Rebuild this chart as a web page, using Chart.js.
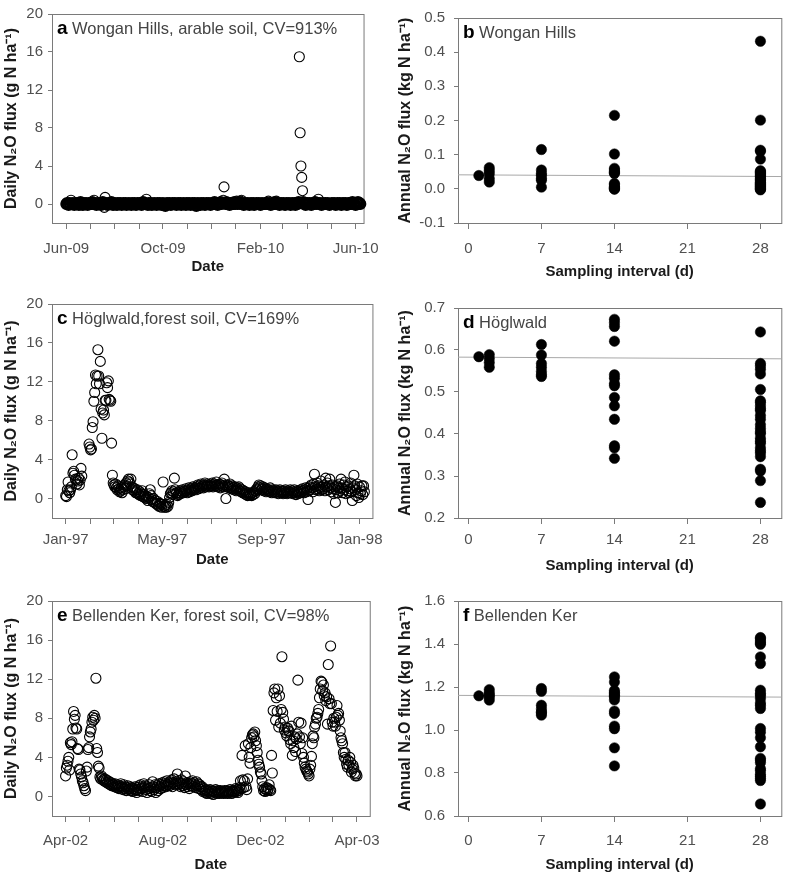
<!DOCTYPE html>
<html>
<head>
<meta charset="utf-8">
<script src="https://cdn.jsdelivr.net/npm/chart.js@4.4.1/dist/chart.umd.min.js"></script>
<style>
  body { margin: 0; background: #fff; }
  #wrap { position: relative; width: 787px; height: 873px; background: #fff; }
  canvas { position: absolute; }
</style>
</head>
<body>
<div id="wrap">
  <canvas id="panelA" width="390" height="290" style="left:0;top:0"></canvas>
  <canvas id="panelB" width="397" height="290" style="left:390px;top:0"></canvas>
  <canvas id="panelC" width="390" height="290" style="left:0;top:290px"></canvas>
  <canvas id="panelD" width="397" height="290" style="left:390px;top:290px"></canvas>
  <canvas id="panelE" width="390" height="293" style="left:0;top:580px"></canvas>
  <canvas id="panelF" width="397" height="293" style="left:390px;top:580px"></canvas>
</div>
<script>
const FONT = "'Liberation Sans', Arial, Helvetica, sans-serif";
Chart.defaults.font.family = FONT;

// daily N2O flux (g N ha-1), one value per day from the start date, null = no data
const wonganStart = [2009, 5, 1];
const wonganDaily = [
  0, 0.1, 0, -0.1, 0.1, 0, 0.4, 0, 0.1, 0,
  -0.1, 0, 0.1, 0, 0, 0.1, -0.1, 0, 0.2, 0,
  0, -0.1, 0.1, 0, 0, 0.1, 0, -0.1, 0, 0.1,
  0, 0.1, 0, 0.2, 0, 0.4, 0.1, 0, -0.1, 0,
  0.1, 0, 0, 0.1, -0.1, 0, 0.2, 0, -0.35, 0.7,
  0.1, 0, -0.1, 0, 0.1, 0, 0, 0.2, 0, -0.1,
  0, 0.1, 0, 0, -0.1, 0.1, 0, 0, 0.1, 0,
  -0.1, 0, 0.1, 0, 0, 0.1, -0.1, 0, 0, 0.1,
  0, 0, -0.1, 0.1, 0, 0, 0.1, 0, -0.1, 0,
  0.1, 0, 0, 0.1, 0, -0.1, 0, 0.2, 0, 0.1,
  0, 0.5, 0, -0.1, 0.1, 0, 0, 0.1, -0.1, 0,
  0, 0.1, 0, 0, -0.1, 0.1, 0, 0, 0.1, 0,
  -0.1, 0, 0.1, 0, 0, -0.2, 0, 0.1, 0, 0,
  0.1, 0, -0.1, 0, 0.1, 0, 0, 0.1, 0, -0.1,
  0, 0.1, 0, 0, 0.1, -0.1, 0, 0, 0.1, 0,
  0, -0.1, 0.1, 0, 0, 0.1, 0, -0.1, 0, 0.1,
  0, 0, 0.1, 0, -0.2, 0, 0.1, 0, 0, -0.1,
  0.1, 0, 0, 0.1, 0, -0.1, 0, 0.1, 0, 0,
  0.1, 0, -0.1, 0, 0.1, 0, 0, 0.2, 0, 0.1,
  0, -0.1, 0, 0.1, 0, 0.2, 0, 0.1, 0.4, 1.8,
  0.1, 0, 0.2, 0, 0.1, 0, -0.1, 0.1, 0, 0,
  0.1, 0, 0.2, 0, 0.1, 0.3, 0, 0.1, 0.2, 0,
  0.3, 0.4, 0.1, 0, -0.1, 0, 0.1, 0, 0, 0.1,
  0, -0.1, 0, 0.1, 0, 0, 0.1, -0.1, 0, 0,
  0.1, 0, 0, 0.1, 0, -0.1, 0, 0.1, 0, 0,
  0, 0.1, 0, 0.1, 0, 0.3, 0.1, 0, -0.1, 0,
  0.1, 0, 0, 0.2, 0, 0.3, 0, 0.1, 0, -0.1,
  0, 0.1, 0, 0, 0.1, 0, -0.1, 0, 0.1, 0,
  0, 0.1, 0, -0.1, 0, 0.1, 0, 0, 0.1, -0.1,
  0, 0.1, 0, 0.2, 15.5, 7.5, 4.0, 2.8, 1.4, 0.2,
  0, 0.1, -0.1, 0, 0.1, 0, 0, 0.1, 0, -0.1,
  0, 0.1, 0, 0, 0.2, 0.1, 0, 0.1, 0.5, 0,
  0.1, 0, -0.1, 0, 0.1, 0, 0, 0.1, 0, 0,
  0.1, 0, -0.1, 0, 0, 0.1, 0, 0, 0.1, 0,
  -0.1, 0, 0.1, 0, 0, 0.1, 0, -0.1, 0, 0.1,
  0, 0, 0.1, 0, -0.1, 0, 0.1, 0, 0, 0.1,
  0, 0.2, 0, 0.1, 0, -0.1, 0.1, 0, 0.2, 0,
  0.1, 0
];
const wonganDateLabels = ['Jun-09', 'Oct-09', 'Feb-10', 'Jun-10'];

const hoglwaldStart = [1997, 0, 1];
const hoglwaldDaily = [
  0.3, 0.2, 0.9, 1.7, 0.8, 0.6, 0.9, 1.2, 4.5, 2.6,
  2.8, 2.4, 2.0, 1.9, 1.5, 1.8, 2.1, 1.4, 1.9, 3.1,
  2.3, null, null, null, null, null, null, null, null, 5.6,
  5.3, 5.0, 5.1, 7.3, 7.9, 10.0, 10.9, 12.7, 11.8, 12.6,
  15.3, 12.6, 11.8, 14.1, 9.2, 6.2, 8.8, 9.1, 8.6, 10.1,
  10.1, 11.9, 11.4, 12.1, 10.2, 10.1, 10.0, 5.7, 2.4, 1.6,
  1.4, 1.2, 1.5, 1.1, 0.9, 1.3, 1.0, 0.7, 0.8, 1.1,
  0.6, 0.9, 1.2, 1.4, 1.0, 1.6, 1.3, 1.8, 2.0, 1.7,
  1.5, 2.0, 1.2, 0.9, 1.1, 0.8, 1.0, 0.6, 0.7, 0.9,
  0.5, 0.4, 0.7, 0.3, 0.5, 0.8, 0.2, 0.4, 0.1, 0.3,
  0.0, 0.2, -0.2, 0.1, 0.5, 0.9, 0.3, -0.1, -0.3, 0.0,
  -0.4, -0.2, -0.5, -0.6, -0.3, -0.7, -0.8, -0.5, -0.6, -0.9,
  -0.6, 1.7, -0.8, -0.9, -0.7, -0.9, -0.6, -0.8, -0.4, 0.1,
  0.5, 0.6, 0.8, 0.4, 0.7, 2.1, 0.9, 0.5, 0.6, 0.3,
  0.4, 0.6, 0.8, 0.5, 0.7, 0.9, 0.6, 0.8, 0.7, 1.0,
  0.8, 0.6, 0.9, 1.1, 0.7, 0.9, 1.0, 0.8, 1.2, 0.9,
  1.0, 1.1, 0.9, 1.2, 1.4, 1.0, 1.3, 1.1, 1.5, 1.2,
  1.3, 1.1, 1.4, 1.6, 1.2, 1.3, 1.5, 1.4, 1.2, 1.3,
  1.5, 1.3, 1.6, 1.2, 1.4, 1.5, 1.3, 1.7, 1.4, 1.2,
  1.3, 1.5, 1.1, 1.4, 1.6, 1.3, 1.2, 2.0, 1.4, 0.0,
  1.2, 1.4, 1.3, 1.1, 1.5, 1.2, 1.0, 1.3, 1.1, 0.9,
  1.2, 1.0, 0.8, 1.1, 0.9, 1.2, 0.8, 1.0, 0.7, 0.9,
  0.6, 0.8, 0.5, 0.7, 0.4, 0.6, 0.3, 0.5, 0.6, 0.4,
  0.5, 0.3, 0.6, 0.4, 0.7, 0.5, 0.8, 1.0, 0.9, 1.2,
  1.4, 1.1, 1.3, 0.9, 1.0, 1.2, 0.8, 1.1, 0.9, 0.7,
  1.0, 0.8, 0.9, 0.7, 1.1, 0.8, 0.6, 0.9, 0.7, 0.8,
  0.6, 0.9, 0.7, 0.8, 0.5, 0.7, 0.9, 0.6, 0.8, 0.7,
  0.5, 0.8, 0.6, 0.9, 0.7, 0.5, 0.8, 0.6, 0.7, 0.9,
  0.6, 0.8, 0.5, 0.7, 0.9, 0.6, 0.4, 0.8, 0.7, 0.5,
  0.8, 0.6, 0.9, 0.7, 1.0, 0.8, 0.6, 0.9, 1.1, 0.7,
  1.0, -0.1, 0.8, 1.2, 0.9, 1.4, 1.1, 0.7, 1.5, 2.5,
  1.2, 0.9, 1.6, 1.0, 1.3, 0.8, 1.1, 1.8, 0.9, 1.2,
  1.0, 1.4, 0.8, 2.1, 1.2, 1.6, 0.9, 1.3, 2.0, 1.1,
  0.7, 1.4, 1.0, 0.5, 1.2, -0.4, 0.9, 1.3, 0.6, 1.1,
  1.5, 0.8, 2.0, 1.1, 0.6, 1.4, 0.9, 1.7, 0.5, 1.2,
  0.8, 1.3, 0.6, 1.0, 1.6, 0.7, -0.2, 1.1, 2.4, 1.3,
  0.9, 0.3, 1.5, 0.6, 0.1, 1.2, 0.5, 0.8, 1.3, 0.4,
  1.3, 0.7
];
const hoglwaldDateLabels = ['Jan-97', 'May-97', 'Sep-97', 'Jan-98'];

const bellendenStart = [2002, 3, 1];
const bellendenDaily = [
  2.1, 2.9, 3.2, 3.6, 4.0, 2.7, 5.5, 5.3, 5.6, 6.9,
  8.7, 7.9, 8.3, 7.0, 6.9, 4.9, 4.8, 2.8, 2.7, 2.3,
  2.0, 1.6, 1.4, 1.1, 0.8, 0.6, 2.6, 3.0, 4.8, 5.0,
  6.1, 6.6, 6.9, 7.6, 8.1, 7.8, 8.3, 8.0, 12.1, 4.9,
  4.5, 3.1, 2.9, 2.0, 1.8, 2.1, 1.9, 1.7, 1.6, 1.8,
  1.5, 1.7, 1.4, 1.6, 1.3, 1.5, 1.2, 1.4, 1.1, 1.3,
  1.2, 1.0, 1.3, 1.1, 0.9, 1.2, 1.0, 0.8, 1.1, 1.3,
  0.9, 1.0, 0.7, 1.2, 0.8, 1.0, 0.6, 0.9, 1.1, 0.7,
  0.8, 1.0, 0.6, 0.9, 0.5, 0.8, 0.7, 1.0, 0.6, 0.4,
  0.7, 0.9, 1.1, 0.6, 1.2, 0.8, 1.0, 0.5, 1.3, 0.9,
  1.1, 0.7, 0.4, 1.0, 0.8, 1.2, 0.6, 0.9, 0.5, 1.5,
  1.0, 0.7, 1.2, 0.4, 0.9, 1.1, 0.6, 1.3, 1.0, 0.8,
  1.2, 1.4, 0.9, 1.1, 1.5, 1.3, 1.0, 1.6, 1.2, 1.4,
  1.1, 1.5, 1.3, 1.7, 1.0, 1.4, 1.8, 1.2, 1.5, 1.3,
  2.3, 1.6, 1.2, 1.4, 1.0, 1.7, 1.3, 1.1, 1.5, 0.9,
  2.1, 1.2, 1.4, 1.0, 1.3, 0.8, 1.5, 1.1, 1.3, 1.6,
  1.0, 1.4, 1.2, 0.9, 1.5, 1.1, 1.3, 0.8, 1.2, 1.0,
  0.7, 1.0, 0.5, 0.8, 0.6, 0.4, 0.7, 0.3, 0.5, 0.6,
  0.4, 0.7, 0.3, 0.5, 0.6, 0.2, 0.5, 0.4, 0.7, 0.3,
  0.5, 0.6, 0.4, 0.3, 0.6, 0.5, 0.4, 0.5, 0.3, 0.6,
  0.4, 0.5, 0.6, 0.3, 0.5, 0.4, 0.7, 0.5, 0.3, 0.6,
  0.5, 0.4, 0.6, 0.8, 0.5, 0.7, 0.4, 0.6, 0.9, 1.6,
  0.8, 4.2, 1.7, 0.9, 1.6, 5.2, 1.0, 0.7, 1.8, 5.4,
  4.0, 3.4, 5.0, 6.0, 6.3, 6.4, 6.1, 6.6, 5.7, 5.2,
  4.5, 3.7, 3.3, 3.0, 2.5, 2.3, 1.6, 1.0, 0.6, 0.8,
  0.5, 0.7, 0.9, 0.6, 0.8, 1.2, 0.7, 0.6, 4.2, 2.4,
  8.8, 10.6, 11.0, 7.8, 10.1, 8.7, 11.0, 7.1, 10.3, 7.5,
  8.9, 14.3, 8.6, 7.9, 6.8, 7.1, 6.5, 6.2, 7.0, 6.7,
  6.7, 5.8, 5.4, 7.2, 4.2, 5.7, 5.0, 6.1, 4.6, 5.9,
  6.4, 11.9, 7.6, 6.1, 5.4, 7.5, 4.4, 6.0, 4.0, 3.4,
  3.0, 2.8, 2.6, 2.5, 2.3, 2.1, 2.8, 3.2, 4.1, 5.4,
  6.2, 6.0, 7.1, 7.4, 8.0, 8.1, 8.5, 8.9, 10.1, 11.0,
  11.8, 11.7, 10.8, 11.4, 10.3, 10.6, 9.8, 10.2, 7.4, 13.5,
  10.0, 9.5, 15.4, 9.5, 7.6, 7.2, 8.0, 7.6, 7.2, 8.1,
  9.3, 8.3, 8.5, 7.8, 6.7, 6.0, 5.7, 5.4, 4.5, 4.0,
  4.5, 3.8, 3.3, 3.0, 3.7, 3.2, 4.0, 3.5, 2.5, 2.8,
  3.2, 2.9, 2.4, 2.1, 2.3, 2.1
];
const bellendenDateLabels = ['Apr-02', 'Aug-02', 'Dec-02', 'Apr-03'];

const dailyTicks = [0, 4, 8, 12, 16, 20];

// annual N2O flux (kg N ha-1) estimated at each sampling interval (d)
const samplingIntervals = [1, 2, 7, 14, 28];
const intervalTicks = [0, 7, 14, 21, 28];
const trendX = [-1, 30];

const wonganAnnual = [
  [0.039],
  [0.062, 0.053, 0.044, 0.030, 0.020],
  [0.115, 0.055, 0.045, 0.039, 0.030, 0.025, 0.005],
  [0.215, 0.102, 0.060, 0.055, 0.048, 0.045, 0.016, 0.012, 0.006, 0.004, 0.002, 0.0, -0.001, 0.050],
  [0.432, 0.201, 0.113, 0.110, 0.087, 0.053, 0.048, 0.045, 0.041, 0.038, 0.030, 0.027, 0.020, 0.016,
   0.014, 0.010, 0.006, 0.004, 0.002, 0.0, -0.001, -0.003, 0.018, 0.008, 0.035, 0.024, 0.012, 0.050]
];
const wonganTrend = [0.041, 0.036];
const wonganAnnualTicks = [-0.1, 0, 0.1, 0.2, 0.3, 0.4, 0.5];

const hoglwaldAnnual = [
  [0.584],
  [0.589, 0.580, 0.570, 0.559],
  [0.613, 0.588, 0.568, 0.559, 0.549, 0.541, 0.537],
  [0.673, 0.665, 0.656, 0.621, 0.541, 0.533, 0.520, 0.515, 0.487, 0.467, 0.435, 0.372, 0.367, 0.342],
  [0.643, 0.568, 0.562, 0.554, 0.543, 0.506, 0.479, 0.475, 0.467, 0.460, 0.456, 0.444, 0.435, 0.422,
   0.413, 0.405, 0.401, 0.390, 0.383, 0.378, 0.367, 0.360, 0.355, 0.346, 0.316, 0.312, 0.289, 0.237]
];
const hoglwaldTrend = [0.583, 0.579];
const hoglwaldAnnualTicks = [0.2, 0.3, 0.4, 0.5, 0.6, 0.7];

const bellendenAnnual = [
  [1.159],
  [1.188, 1.173, 1.163, 1.154, 1.139],
  [1.193, 1.180, 1.115, 1.098, 1.084, 1.080, 1.069],
  [1.247, 1.223, 1.184, 1.175, 1.168, 1.160, 1.154, 1.140, 1.088, 1.077, 1.018, 1.006, 0.917, 0.833],
  [1.430, 1.425, 1.414, 1.405, 1.399, 1.340, 1.309, 1.185, 1.170, 1.162, 1.147, 1.126, 1.115, 1.100,
   1.007, 0.990, 0.964, 0.922, 0.868, 0.860, 0.848, 0.820, 0.811, 0.794, 0.785, 0.775, 0.765, 0.656]
];
const bellendenTrend = [1.161, 1.153];
const bellendenAnnualTicks = [0.6, 0.8, 1.0, 1.2, 1.4, 1.6];

function dayNum(y, m, d) {
  return Date.UTC(y, m, d) / 864e5;
}

function dailyPoints(start, values) {
  const d0 = dayNum(start[0], start[1], start[2]);
  return values.map((v, i) => ({ x: d0 + i, y: v })).filter(p => p.y !== null);
}

function monthTicks(start) {
  const out = [];
  for (let i = 0; i <= 12; i++) out.push(dayNum(start[0], start[1] + i, 1));
  return out;
}

function annualPoints(groups) {
  const pts = [];
  groups.forEach((g, i) => g.forEach(v => pts.push({ x: samplingIntervals[i], y: v })));
  return pts;
}

const framePlugin = {
  id: 'frame',
  beforeDatasetsDraw(chart, args, opts) {
    const { ctx, chartArea: a } = chart;
    ctx.save();
    ctx.strokeStyle = '#7a7a7a';
    ctx.lineWidth = 1;
    ctx.strokeRect(a.left + 0.5, a.top + 0.5, a.right - a.left, a.bottom - a.top);
    const x0 = a.left + 5, y0 = a.top + 20;
    ctx.textBaseline = 'alphabetic';
    ctx.textAlign = 'left';
    ctx.font = 'bold 19px ' + FONT;
    ctx.fillStyle = '#000';
    ctx.fillText(opts.letter, x0, y0);
    const w = ctx.measureText(opts.letter).width;
    ctx.font = '16.5px ' + FONT;
    ctx.fillStyle = '#444';
    ctx.fillText(opts.text, x0 + w + 4.5, y0);
    ctx.restore();
  }
};

function makeChart(id, cfg) {
  return new Chart(document.getElementById(id), {
    type: 'scatter',
    data: { datasets: cfg.datasets },
    options: {
      responsive: false,
      animation: false,
      events: [],
      layout: { padding: { top: cfg.top, right: cfg.right, left: 0, bottom: 0 } },
      plugins: {
        legend: { display: false },
        tooltip: { enabled: false },
        frame: { letter: cfg.letter, text: cfg.title }
      },
      scales: {
        x: {
          type: 'linear',
          min: cfg.xMin,
          max: cfg.xMax,
          afterFit: s => { s.height = cfg.xHeight; },
          afterBuildTicks: s => { s.ticks = cfg.xTicks.map(v => ({ value: v })); },
          grid: { drawOnChartArea: false, tickLength: 6, color: '#7a7a7a' },
          border: { display: false },
          ticks: {
            autoSkip: false, maxRotation: 0, minRotation: 0,
            padding: cfg.xPad, color: '#505050', font: { size: 15 },
            callback: (v, i) => cfg.xLabel(v, i)
          },
          title: {
            display: true, text: cfg.xTitle, color: '#1a1a1a',
            font: { size: 15, weight: 'bold' }, padding: { top: 0, bottom: cfg.xTitlePad }
          }
        },
        y: {
          type: 'linear',
          min: cfg.yMin,
          max: cfg.yMax,
          afterFit: s => { s.width = cfg.yWidth; },
          afterBuildTicks: s => { s.ticks = cfg.yTicks.map(v => ({ value: v })); },
          grid: { drawOnChartArea: false, tickLength: 4, color: '#7a7a7a' },
          border: { display: false },
          ticks: {
            padding: cfg.yPad, color: '#505050', font: { size: 15 },
            callback: v => cfg.yLabel(v)
          },
          title: {
            display: true, text: cfg.yTitle, color: '#1a1a1a',
            font: { size: 16, weight: 'bold' }, padding: { top: cfg.yTitlePad, bottom: 0 }
          }
        }
      }
    },
    plugins: [framePlugin]
  });
}

function dailyPanel(id, letter, title, start, values, labels, box) {
  const d0 = dayNum(start[0], start[1], start[2]);
  const ticks = monthTicks(start);
  makeChart(id, Object.assign({
    letter, title,
    datasets: [{
      data: dailyPoints(start, values),
      pointRadius: 5,
      // crowded near-zero rings in the dense band are drawn heavier
      pointBorderWidth: c => (c.raw && Math.abs(c.raw.y) < 0.3 ? box.ring : 1.1),
      pointBorderColor: '#000',
      pointBackgroundColor: 'rgba(0,0,0,0)',
      clip: false
    }],
    xMin: d0 - box.before,
    xMax: ticks[12] + box.after,
    xTicks: ticks,
    xLabel: (v, i) => (i % 4 === 0 ? labels[i / 4] : ''),
    xTitle: 'Date',
    yMin: -2, yMax: 20,
    yTicks: dailyTicks,
    yLabel: v => String(v),
    yTitle: 'Daily N\u2082O flux (g N ha\u207B\u00B9)',
    yWidth: 52, yPad: 5, yTitlePad: 1.5
  }, box));
}

function annualPanel(id, letter, title, groups, trend, yTicks, box) {
  makeChart(id, Object.assign({
    letter, title,
    datasets: [
      {
        data: annualPoints(groups),
        pointRadius: 5.2,
        pointBorderWidth: 0.5,
        pointBorderColor: '#000',
        pointBackgroundColor: '#000',
        clip: false,
        order: 0
      },
      {
        data: trendX.map((x, i) => ({ x, y: trend[i] })),
        showLine: true,
        borderColor: '#a8a8a8',
        borderWidth: 1,
        pointRadius: 0,
        order: 1
      }
    ],
    xMin: trendX[0], xMax: trendX[1],
    xTicks: intervalTicks,
    xLabel: v => String(v),
    xTitle: 'Sampling interval (d)',
    yMin: yTicks[0], yMax: yTicks[yTicks.length - 1],
    yTicks: yTicks,
    yLabel: v => v.toFixed(1),
    yTitle: 'Annual N\u2082O flux (kg N ha\u207B\u00B9)',
    yWidth: 68, yPad: 9, yTitlePad: 5.5, right: 5
  }, box));
}

dailyPanel('panelA', 'a', 'Wongan Hills, arable soil, CV=913%', wonganStart, wonganDaily, wonganDateLabels,
  { top: 7, right: 18, xHeight: 67, xPad: 11, xTitlePad: 14, before: 18, after: 10, ring: 2 });
annualPanel('panelB', 'b', 'Wongan Hills', wonganAnnual, wonganTrend, wonganAnnualTicks,
  { top: 7, xHeight: 67, xPad: 11, xTitlePad: 9 });

dailyPanel('panelC', 'c', 'H\u00F6glwald,forest soil, CV=169%', hoglwaldStart, hoglwaldDaily, hoglwaldDateLabels,
  { top: 13, right: 13, xHeight: 62, xPad: 7, xTitlePad: 11, before: 17, after: 16, ring: 1.1 });
annualPanel('panelD', 'd', 'H\u00F6glwald', hoglwaldAnnual, hoglwaldTrend, hoglwaldAnnualTicks,
  { top: 13, xHeight: 62, xPad: 7, xTitlePad: 5 });

dailyPanel('panelE', 'e', 'Bellenden Ker, forest soil, CV=98%', bellendenStart, bellendenDaily, bellendenDateLabels,
  { top: 21, right: 13, xHeight: 57, xPad: 10, xTitlePad: -1, before: 17, after: 16, ring: 1.1 });
annualPanel('panelF', 'f', 'Bellenden Ker', bellendenAnnual, bellendenTrend, bellendenAnnualTicks,
  { top: 21, xHeight: 57, xPad: 10, xTitlePad: -1 });
</script>
</body>
</html>
